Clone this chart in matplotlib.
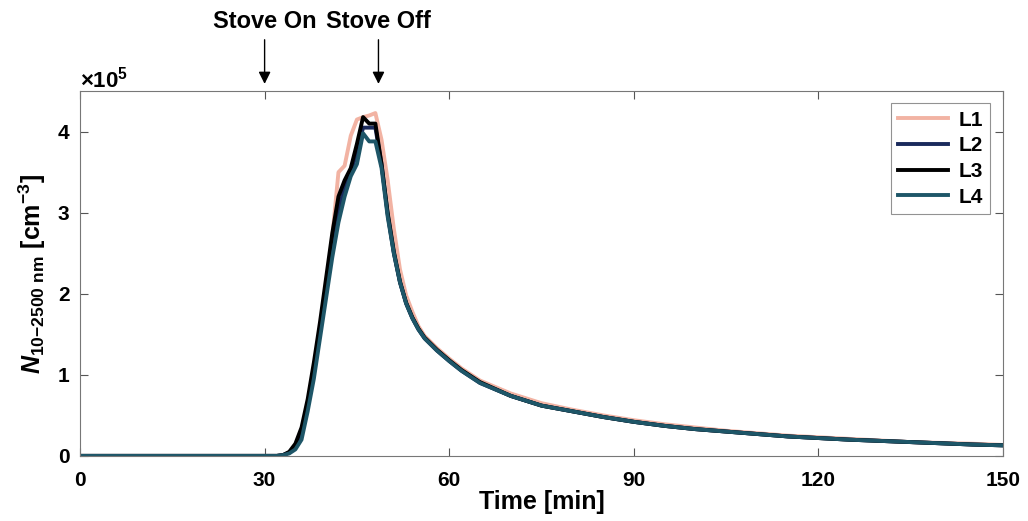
import numpy as np
import matplotlib
matplotlib.use('Agg')
import matplotlib.pyplot as plt
from matplotlib.ticker import ScalarFormatter

plt.rcParams['font.family'] = ['Liberation Sans', 'DejaVu Sans']
plt.rcParams['font.weight'] = 'bold'
plt.rcParams['mathtext.fontset'] = 'custom'
plt.rcParams['mathtext.rm'] = 'Liberation Sans:bold'
plt.rcParams['mathtext.it'] = 'Liberation Sans:italic:bold'
plt.rcParams['mathtext.bf'] = 'Liberation Sans:bold'

# time [min]
t = [0, 30, 32, 33, 34, 35, 36, 37, 38, 39, 40, 41, 42, 43, 44, 45, 46, 47, 48, 49,
     50, 51, 52, 53, 54, 55, 56, 58, 60, 62, 65, 70, 75, 80, 85, 90, 95, 100, 105,
     110, 115, 120, 125, 130, 135, 140, 145, 150]

# number concentration, x1e5 cm^-3
L1 = [0, 0, 0, 0.01, 0.04, 0.12, 0.28, 0.62, 1.05, 1.55, 2.1, 2.7, 3.5, 3.58, 3.95, 4.15,
      4.18, 4.2, 4.23, 3.9, 3.4, 2.8, 2.3, 1.98, 1.78, 1.6, 1.48, 1.33, 1.2, 1.08,
      0.93, 0.77, 0.65, 0.57, 0.5, 0.44, 0.39, 0.35, 0.31, 0.28, 0.25, 0.23, 0.21,
      0.19, 0.17, 0.16, 0.15, 0.135]
L2 = [0, 0, 0, 0.01, 0.04, 0.12, 0.3, 0.62, 1.08, 1.58, 2.1, 2.62, 3.05, 3.3, 3.5, 3.75,
      4.05, 4.05, 4.05, 3.6, 2.98, 2.5, 2.14, 1.88, 1.7, 1.56, 1.45, 1.3, 1.17, 1.05,
      0.9, 0.74, 0.62, 0.55, 0.48, 0.42, 0.37, 0.33, 0.3, 0.27, 0.24, 0.22, 0.2,
      0.185, 0.17, 0.155, 0.14, 0.13]
L3 = [0, 0, 0, 0.01, 0.05, 0.15, 0.35, 0.7, 1.15, 1.65, 2.2, 2.75, 3.2, 3.4, 3.55, 3.85,
      4.18, 4.1, 4.1, 3.6, 3.0, 2.52, 2.15, 1.89, 1.71, 1.57, 1.46, 1.31, 1.18, 1.06,
      0.91, 0.74, 0.62, 0.55, 0.48, 0.42, 0.37, 0.33, 0.3, 0.27, 0.24, 0.22, 0.2,
      0.185, 0.17, 0.155, 0.14, 0.13]
L4 = [0, 0, 0, 0.01, 0.03, 0.08, 0.2, 0.55, 0.95, 1.45, 1.95, 2.45, 2.88, 3.2, 3.45, 3.6,
      3.98, 3.88, 3.88, 3.55, 2.95, 2.5, 2.14, 1.88, 1.7, 1.56, 1.45, 1.3, 1.17, 1.05,
      0.9, 0.74, 0.62, 0.55, 0.48, 0.42, 0.37, 0.33, 0.3, 0.27, 0.24, 0.22, 0.2,
      0.185, 0.17, 0.155, 0.14, 0.13]

names = ['L1', 'L2', 'L3', 'L4']
colors = ['#F2B3A3', '#1A2A5C', '#000000', '#1E5668']
events = [('Stove On', 30), ('Stove Off', 48.5)]

fig = plt.figure(figsize=(10.28, 5.21), dpi=100)
ax = fig.add_axes([0.0778, 0.125, 0.898, 0.700])

for name, y, c in zip(names, [L1, L2, L3, L4], colors):
    ax.plot(t, np.array(y) * 1e5, color=c, lw=2.8, label=name)

ax.set_xlim(0, 150)
ax.set_ylim(0, 4.5e5)
ax.set_xticks([0, 30, 60, 90, 120, 150])
ax.set_yticks([0, 1e5, 2e5, 3e5, 4e5])
fmt = ScalarFormatter(useMathText=True)
fmt.set_powerlimits((0, 0))
ax.yaxis.set_major_formatter(fmt)
ax.yaxis.get_offset_text().set_fontsize(16)
ax.yaxis.get_offset_text().set_fontweight('bold')

ax.tick_params(direction='in', top=True, right=True, labelsize=15, length=6,
               width=0.8, color='#555555')
ax.tick_params(axis='x', pad=11)
ax.tick_params(axis='y', pad=7)
for lab in ax.get_xticklabels() + ax.get_yticklabels():
    lab.set_fontweight('bold')
for s in ax.spines.values():
    s.set_color('#777777')
    s.set_linewidth(0.8)

ax.set_xlabel('Time [min]', fontsize=18, fontweight='bold', labelpad=0)
ax.set_ylabel(r'$N_{\mathrm{10{-}2500\ nm}}$ [cm$^{\mathrm{-3}}$]', fontsize=18,
              fontweight='bold', labelpad=6)

leg = ax.legend(loc='upper right', fontsize=15, frameon=True, fancybox=False,
                handlelength=2.4, handletextpad=0.5, borderpad=0.35,
                labelspacing=0.32, borderaxespad=0,
                bbox_to_anchor=(0.986, 0.967))
leg.get_frame().set_edgecolor('#777777')
leg.get_frame().set_linewidth(0.8)
for txt in leg.get_texts():
    txt.set_fontweight('bold')

for label, x in events:
    ax.annotate(label, xy=(x, 1.02), xycoords=('data', 'axes fraction'),
                xytext=(x, 1.16), textcoords=('data', 'axes fraction'),
                ha='center', va='bottom', fontsize=17, fontweight='bold',
                arrowprops=dict(arrowstyle='-|>', color='black', lw=1,
                                mutation_scale=18, shrinkA=3, shrinkB=0),
                annotation_clip=False)

fig.savefig('out.png', dpi=100)
